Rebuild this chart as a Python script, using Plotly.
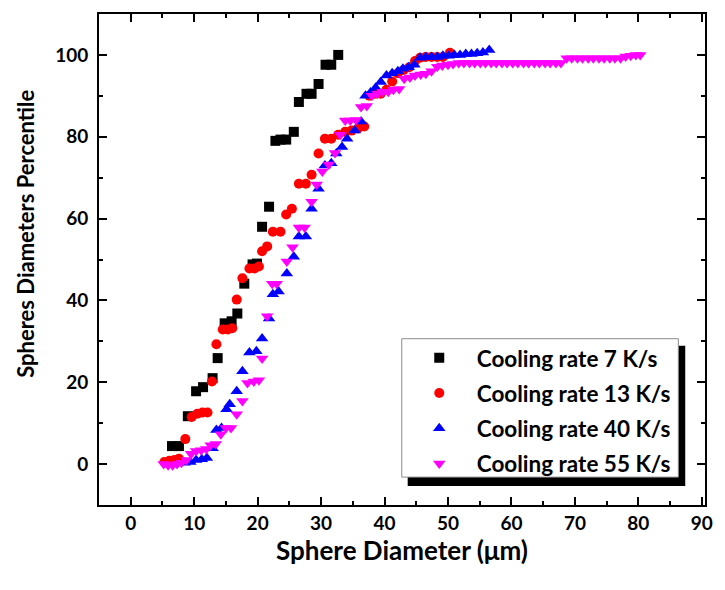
import plotly.graph_objects as go

# Cumulative percentile of sphere diameters for four cooling rates
names = ["Cooling rate 7 K/s", "Cooling rate 13 K/s", "Cooling rate 40 K/s", "Cooling rate 55 K/s"]

d7 = [6.5, 7.6, 9.0, 10.3, 11.4, 12.9, 13.7, 14.8, 15.9, 16.8, 17.9, 19.2, 19.9, 20.7, 21.8,
      22.8, 23.6, 24.5, 25.7, 26.5, 27.7, 28.5, 29.6, 30.7, 31.6, 32.7]
p7 = [4.4, 4.4, 11.7, 17.8, 18.8, 21.0, 25.9, 34.4, 34.9, 36.8, 44.1, 48.8, 49.0, 58.0, 62.9,
      79.0, 79.3, 79.3, 81.2, 88.5, 90.5, 90.5, 92.9, 97.6, 97.6, 100.0]

d13 = [5.3, 6.1, 6.9, 7.6, 8.6, 9.6, 10.5, 11.3, 12.1, 12.8, 13.5, 14.5, 15.3, 16.0, 16.7,
       17.6, 18.7, 19.5, 20.2, 20.7, 21.5, 22.4, 23.6, 24.5, 25.4, 26.5, 27.6, 28.5, 29.6, 30.6,
       31.6, 32.7, 33.8, 34.8, 35.8, 36.8, 37.6, 38.5, 39.4, 40.3, 41.2, 42.1, 43.0, 43.9, 44.8,
       45.6, 46.5, 47.4, 48.3, 49.2, 50.3]
p13 = [0.5, 0.8, 1.0, 1.3, 6.1, 11.5, 12.3, 12.6, 12.6, 20.2, 29.3, 32.9, 32.9, 33.2, 40.2,
       45.4, 47.8, 47.8, 48.3, 52.0, 53.2, 56.8, 56.8, 61.0, 62.4, 68.5, 68.5, 70.7, 75.9, 79.5,
       79.5, 80.5, 81.2, 81.5, 82.0, 82.5, 90.0, 90.5, 90.5, 91.5, 93.5, 95.5, 96.3, 97.0, 98.5,
       99.3, 99.5, 99.5, 99.5, 99.5, 100.5]

d40 = [8.5, 9.4, 10.3, 11.2, 12.0, 12.9, 13.5, 14.3, 15.1, 15.6, 16.7, 17.6, 18.7, 19.8, 20.7,
       21.8, 22.4, 23.3, 24.6, 25.7, 26.5, 27.6, 28.5, 29.6, 30.6, 31.6, 32.4, 33.3, 34.1, 35.3,
       36.3, 37.0, 37.8, 38.6, 39.4, 40.3, 41.2, 42.1, 42.9, 43.8, 44.7, 45.6, 46.5, 47.4, 48.3,
       49.2, 50.1, 51.0, 51.9, 52.8, 53.7, 54.6, 55.5, 56.5]
p40 = [0.3, 0.5, 1.0, 1.2, 1.5, 3.9, 8.3, 8.8, 13.4, 14.6, 17.8, 22.7, 27.3, 27.6, 30.7,
       35.6, 41.5, 42.2, 46.6, 50.7, 55.6, 55.6, 62.4, 67.3, 73.0, 73.5, 75.9, 77.5, 79.5, 81.5,
       83.7, 90.0, 90.8, 92.0, 93.4, 95.0, 95.5, 96.0, 96.6, 97.0, 97.6, 99.3, 99.5, 99.5, 99.5,
       99.8, 99.8, 100.0, 100.0, 100.2, 100.2, 100.4, 100.6, 101.2]

d55 = [5.2, 5.9, 6.6, 7.3, 8.0, 8.8, 9.5, 10.3, 11.1, 11.9, 12.6, 13.4, 14.2, 15.0, 15.8,
       16.7, 17.6, 18.4, 19.4, 20.2, 20.7, 21.5, 22.3, 23.0, 24.6, 25.5, 26.5, 27.4, 28.5, 29.3,
       30.2, 31.2, 32.2, 33.0, 33.8, 34.6, 35.5, 36.3, 37.2, 38.0, 38.9, 39.7, 40.6, 41.4, 42.3,
       43.1, 44.0, 44.8, 45.7, 46.5, 47.4, 48.3, 49.1, 50.0, 50.8, 51.7, 52.5, 53.4, 54.2, 55.1,
       55.9, 56.8, 57.6, 58.5, 59.3, 60.2, 61.0, 61.9, 62.7, 63.6, 64.4, 65.3, 66.1, 67.0, 67.8,
       68.7, 69.5, 70.4, 71.2, 72.1, 72.9, 73.8, 74.6, 75.5, 76.3, 77.2, 78.0, 78.8, 79.6, 80.3]
p55 = [0.0, -0.3, -0.3, 0.0, 0.3, 1.0, 2.5, 3.2, 3.4, 3.7, 4.6, 4.9, 7.3, 8.8, 8.8,
       12.2, 15.4, 19.8, 20.2, 20.5, 25.8, 36.1, 44.1, 44.1, 49.5, 53.0, 57.8, 57.8, 64.1, 68.3,
       71.5, 73.2, 76.0, 80.5, 84.0, 84.0, 84.1, 87.3, 87.5, 90.0, 90.5, 91.0, 91.0, 91.5, 91.7,
       94.2, 94.5, 95.0, 95.2, 95.4, 96.0, 97.1, 97.4, 97.6, 97.8, 98.0, 98.0, 98.0, 98.0, 98.0,
       98.0, 98.0, 98.0, 98.0, 98.0, 98.0, 98.0, 98.0, 98.0, 98.0, 98.0, 98.0, 98.0, 98.0, 98.0,
       99.2, 99.2, 99.2, 99.2, 99.2, 99.2, 99.2, 99.2, 99.2, 99.2, 99.2, 99.6, 99.8, 100.0, 100.0]

series = [
    (d7, p7, "square", "#000000", 10),
    (d13, p13, "circle", "#ff0000", 10),
    (d40, p40, "triangle-up", "#0000ff", 11),
    (d55, p55, "triangle-down", "#ff00ff", 11),
]

FONT = "Lato"

fig = go.Figure()
for i, (xs, ys, sym, col, sz) in enumerate(series):
    fig.add_trace(go.Scatter(
        x=xs, y=ys, mode="markers", name=names[i], legendgroup=f"g{i}",
        marker=dict(symbol=sym, color=col, size=sz, line=dict(width=0)),
    ))

# legend frame with a drop shadow (paper coordinates)
fig.add_shape(type="rect", xref="paper", yref="paper",
              x0=0.5094, x1=0.9674, y0=0.0385, y1=0.3245,
              fillcolor="#000000", line=dict(width=0), layer="above")
fig.add_shape(type="rect", xref="paper", yref="paper",
              x0=0.4996, x1=0.956, y0=0.0568, y1=0.3387,
              fillcolor="#ffffff", line=dict(color="#8c8c8c", width=1), layer="above")

# vertical axis title
fig.add_annotation(
    text="Spheres Diameters Percentile", textangle=-90,
    xref="paper", yref="paper", x=-0.1207, y=0.552, xanchor="center", yanchor="middle",
    showarrow=False, font=dict(family=FONT, size=22, color="#000000", weight="bold"),
)

axis_common = dict(
    showgrid=False, zeroline=False, showline=True, linecolor="#000000", linewidth=2,
    mirror="ticks", ticks="inside", ticklen=8, tickwidth=1.5, tickcolor="#000000",
    tickfont=dict(family=FONT, size=19, color="#000000", weight="bold"),
)

fig.update_xaxes(
    range=[-5, 90.5], tick0=0, dtick=10,
    minor=dict(ticks="inside", ticklen=4, tickwidth=1.5, tickcolor="#000000", dtick=5, tick0=0),
    title=dict(text="Sphere Diameter (\u03bcm)", standoff=4,
               font=dict(family=FONT, size=26, color="#000000", weight="bold")),
    **axis_common,
)
fig.update_yaxes(
    range=[-10, 110], tick0=0, dtick=20, ticklabelstandoff=5,
    minor=dict(ticks="inside", ticklen=4, tickwidth=1.5, tickcolor="#000000", dtick=10, tick0=0),
    **axis_common,
)

fig.update_layout(
    width=725, height=590,
    margin=dict(l=99, r=13, t=12, b=85),
    paper_bgcolor="#ffffff", plot_bgcolor="#ffffff",
    showlegend=True,
    legend=dict(
        x=0.4996, y=0.3428, xanchor="left", yanchor="top",
        bgcolor="rgba(0,0,0,0)", borderwidth=0,
        traceorder="grouped", tracegroupgap=3, itemwidth=65,
        font=dict(family=FONT, size=22.5, color="#000000", weight="bold"),
    ),
)

fig.write_html("out.html")
